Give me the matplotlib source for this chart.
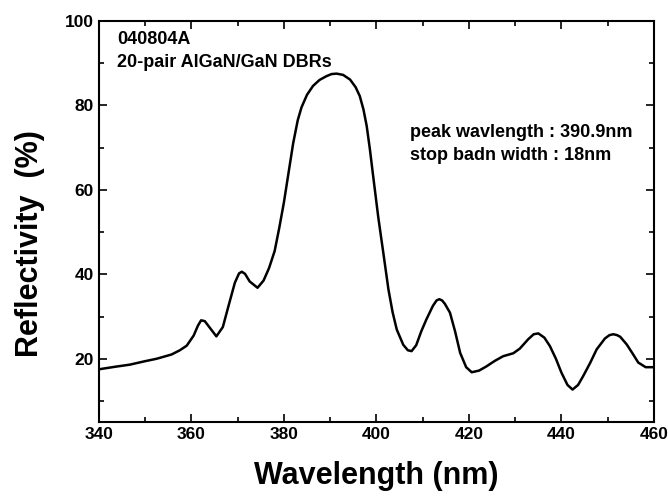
import numpy as np
import matplotlib
matplotlib.use("Agg")
import matplotlib.pyplot as plt
from matplotlib.ticker import MultipleLocator

# reflectivity spectrum
wavelength = [340, 343.5, 346.7, 349.9, 352.5, 355.7, 357.5, 359.0, 360.5, 361.4,
              362.1, 362.9, 363.8, 365.4, 366.8, 368.0, 369.4, 370.3, 370.9, 371.6,
              372.6, 374.3, 375.6, 376.8, 378.0, 379.0, 380.0, 381.0, 382.0, 383.0,
              383.8, 385.0, 386.3, 387.7, 389.2, 390.3, 391.4, 392.8, 394.3, 395.5,
              396.4, 397.2, 397.9, 398.6, 399.3, 400.4, 401.5, 402.6, 403.5, 404.4,
              405.8, 406.8, 407.6, 408.6, 409.7, 410.8, 412.2, 413.0, 413.6, 414.2,
              414.8, 415.9, 417.0, 418.1, 419.4, 420.6, 422.2, 423.8, 425.6, 427.4,
              429.6, 431.0, 432.8, 434.0, 435.0, 436.3, 437.5, 438.8, 440.0, 441.3,
              442.4, 443.6, 444.7, 446.2, 447.6, 449.4, 450.4, 451.2, 452.0, 452.7,
              454.1, 455.4, 456.6, 458.2, 460]
reflectivity = [17.5, 18.1, 18.6, 19.4, 20.0, 21.0, 22.0, 23.1, 25.5, 27.8,
                29.1, 28.9, 27.6, 25.3, 27.5, 32.4, 38.0, 40.2, 40.6, 40.1,
                38.3, 36.8, 38.5, 41.5, 45.5, 51.0, 57.0, 64.0, 71.0, 76.5,
                79.5, 82.5, 84.6, 86.0, 86.9, 87.4, 87.5, 87.2, 86.1, 84.3,
                82.2, 79.0, 75.1, 69.5, 63.2, 53.5, 45.0, 36.4, 31.0, 26.9,
                23.3, 22.0, 21.8, 23.2, 26.5, 29.3, 32.5, 33.8, 34.1, 33.8,
                33.0, 30.9, 26.5, 21.4, 18.0, 16.8, 17.2, 18.2, 19.5, 20.6,
                21.3, 22.4, 24.6, 25.8, 26.0, 25.0, 23.0, 20.0, 16.7, 13.8,
                12.7, 13.8, 15.9, 19.0, 22.2, 24.8, 25.6, 25.8, 25.6, 25.2,
                23.4, 21.2, 19.1, 18.0, 18.0]

sample_text = ["040804A", "20-pair AlGaN/GaN DBRs"]
result_text = ["peak wavlength : 390.9nm", "stop badn width : 18nm"]

plt.rcParams["font.family"] = ["Liberation Sans", "DejaVu Sans"]
plt.rcParams["font.weight"] = "bold"

fig = plt.figure(figsize=(6.68, 4.96), dpi=100)
ax = fig.add_axes([0.148, 0.149, 0.831, 0.809])

ax.plot(wavelength, reflectivity, color="black", lw=1.8,
        solid_joinstyle="round")

ax.set_xlim(340, 460)
ax.set_ylim(5, 100)
ax.xaxis.set_major_locator(MultipleLocator(20))
ax.xaxis.set_minor_locator(MultipleLocator(10))
ax.yaxis.set_major_locator(MultipleLocator(20))
ax.yaxis.set_minor_locator(MultipleLocator(10))
ax.tick_params(which="both", direction="in", top=True, right=True,
               width=1.2, labelsize=12.5)
ax.tick_params(which="major", length=6)
ax.tick_params(which="minor", length=3.5)
for s in ax.spines.values():
    s.set_linewidth(1.5)

ax.set_xlabel("Wavelength (nm)", fontsize=22, fontweight="bold")
ax.set_ylabel("Reflectivity  (%)", fontsize=22, fontweight="bold")
ax.xaxis.set_label_coords(0.5, -0.097)
ax.yaxis.set_label_coords(-0.097, 0.446)

ax.text(343.9, 95.6, sample_text[0], fontsize=13, va="center")
ax.text(343.9, 90.1, sample_text[1], fontsize=13, va="center")
ax.text(407.2, 73.6, result_text[0], fontsize=13, va="center")
ax.text(407.2, 68.1, result_text[1], fontsize=13, va="center")

fig.savefig("out.png", dpi=100)
